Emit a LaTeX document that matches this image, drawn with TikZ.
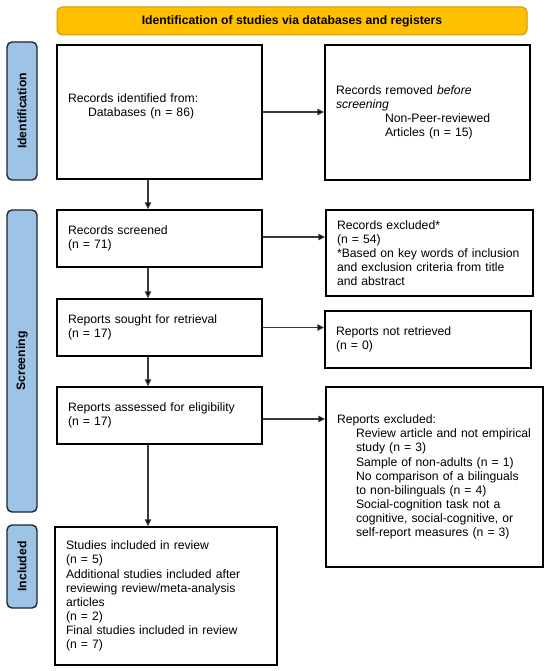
\documentclass[tikz,border=0pt]{standalone}
\usepackage{fontspec}
\setmainfont{Liberation Sans}
\usetikzlibrary{arrows.meta}
\definecolor{bannerfill}{HTML}{FFC000}
\definecolor{bannerdraw}{HTML}{C99A06}
\definecolor{barfill}{HTML}{9DC3E6}
\definecolor{bardraw}{HTML}{1E2530}
\definecolor{arrowcol}{HTML}{3A3A3A}
\begin{document}
\begin{tikzpicture}[x=1pt,y=-1pt,
  txt/.style={font=\fontsize{12.2}{14.1}\selectfont},
  flowbox/.style={txt,draw=black,line width=1.4pt,fill=white,align=left,inner xsep=11pt,inner ysep=0pt},
  banner/.style={txt,font=\fontsize{12.2}{14.1}\selectfont\bfseries,draw=bannerdraw,fill=bannerfill,line width=1pt,rounded corners=5pt,inner sep=0pt},
  sidebar/.style={txt,font=\fontsize{12.2}{14.1}\selectfont\bfseries,draw=bardraw,fill=barfill,line width=1.4pt,rounded corners=5pt,rotate=90,inner sep=0pt},
  flow/.style={draw=arrowcol,line width=1.1pt,-{Triangle[length=7pt,width=6.5pt,fill=black]}}
]
\useasboundingbox (0,0) rectangle (550,671);

% banner
\node[banner,minimum width=470pt,minimum height=28pt] (banner) at (292,21) {Identification of studies via databases and registers};

% side bars
\node[sidebar,minimum width=138pt,minimum height=30pt] (sid) at (22,111) {Identification};
\node[sidebar,minimum width=302pt,minimum height=30pt] (sscr) at (22,361) {Screening};
\node[sidebar,minimum width=83pt,minimum height=30pt] (sinc) at (22,566.5) {Included};

% left column
\node[flowbox,text width=183pt,minimum height=134pt] (b1) at (159.5,112) {Records identified from:\\\hspace*{20pt}Databases (n = 86)\\\mbox{}};
\node[flowbox,text width=183pt,minimum height=57pt] (b3) at (159.5,238.5) {Records screened\\(n = 71)};
\node[flowbox,text width=183pt,minimum height=57pt] (b5) at (159.5,327.5) {Reports sought for retrieval\\(n = 17)};
\node[flowbox,text width=183pt,minimum height=57pt] (b7) at (159.5,415.5) {Reports assessed for eligibility\\(n = 17)};
\node[flowbox,text width=200pt,minimum height=138pt] (b9) at (166,596) {Studies included in review\\(n = 5)\\Additional studies included after\\reviewing review/meta-analysis\\articles\\(n = 2)\\Final studies included in review\\(n = 7)};

% right column
\node[flowbox,text width=183pt,minimum height=135pt] (b2) at (427.5,112.5) {Records removed \emph{before}\\\emph{screening}\\\hspace*{49pt}Non-Peer-reviewed\\\hspace*{49pt}Articles (n = 15)};
\node[flowbox,text width=185pt,minimum height=86pt] (b4) at (429.5,253) {Records excluded*\\(n = 54)\\\mbox{*Based on key words of inclusion}\\\mbox{and exclusion criteria from title}\\and abstract};
\node[flowbox,text width=184pt,minimum height=57pt] (b6) at (428,339.5) {Reports not retrieved\\(n = 0)};
\node[flowbox,text width=195pt,minimum height=180pt] (b8) at (434.5,477) {Reports excluded:\\\hspace*{19pt}\mbox{Review article and not empirical}\\\hspace*{19pt}study (n = 3)\\\hspace*{19pt}\mbox{Sample of non-adults (n = 1)}\\\hspace*{19pt}\mbox{No comparison of a bilinguals}\\\hspace*{19pt}\mbox{to non-bilinguals (n = 4)}\\\hspace*{19pt}\mbox{Social-cognition task not a}\\\hspace*{19pt}\mbox{cognitive, social-cognitive, or}\\\hspace*{19pt}\mbox{self-report measures (n = 3)}};

% connectors
\coordinate (ax) at (148,0);
\draw[flow] (b1.south -| ax) -- (b3.north -| ax);
\draw[flow] (b3.south -| ax) -- (b5.north -| ax);
\draw[flow] (b5.south -| ax) -- (b7.north -| ax);
\draw[flow] (b7.south -| ax) -- (b9.north -| ax);
\draw[flow] (b1.east) -- (b1.east -| b2.west);
\draw[flow] ([yshift=1.5pt]b3.east) -- ([yshift=1.5pt]b3.east -| b4.west);
\draw[flow] (b5.east) -- (b5.east -| b6.west);
\draw[flow] ([yshift=-3.5pt]b7.east) -- ([yshift=-3.5pt]b7.east -| b8.west);
\end{tikzpicture}
\end{document}
